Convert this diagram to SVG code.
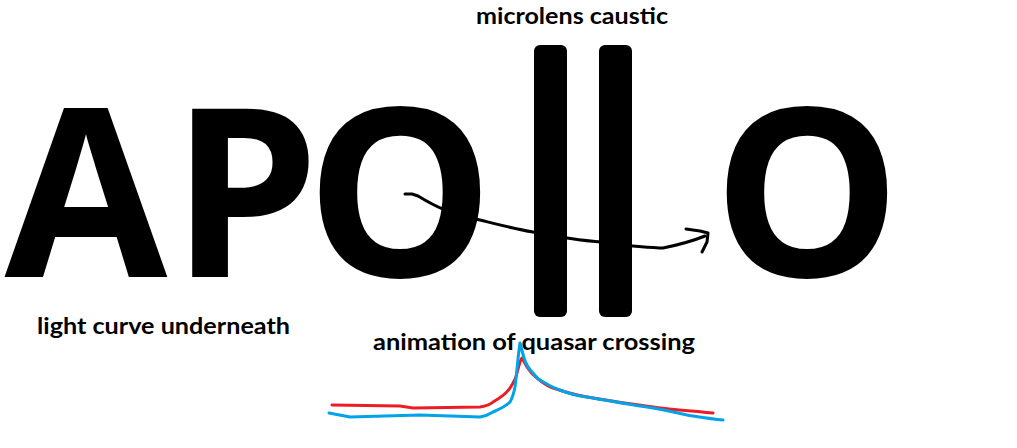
<svg xmlns="http://www.w3.org/2000/svg" width="1017" height="448" viewBox="0 0 1017 448">
<style>
.big{font-family:"Open Sans","Liberation Sans",sans-serif;font-weight:700;font-size:236px;fill:#000}
.lbl{font-family:"Lato","Open Sans","Liberation Sans",sans-serif;font-weight:700;font-size:23px;fill:#000}
.bar{fill:#000}
.lc{fill:none;stroke-width:3;stroke-linejoin:round;stroke-linecap:round}
</style>
<rect width="1017" height="448" fill="#fff"/>
<g id="letter-A"><text class="big" x="86" y="277" text-anchor="middle">A</text></g>
<g id="letter-P"><text class="big" x="245" y="277" text-anchor="middle">P</text></g>
<g id="letter-O1"><text class="big" x="400" y="277" text-anchor="middle">O</text></g>
<g id="caustic">
<rect class="bar" x="534" y="45" width="33" height="272" rx="6"/>
<rect class="bar" x="599" y="45" width="33" height="272" rx="6"/>
</g>
<g id="letter-O2"><text class="big" x="807" y="277" text-anchor="middle">O</text></g>
<g id="label-caustic"><text class="lbl" x="476" y="24" textLength="192" lengthAdjust="spacingAndGlyphs">microlens caustic</text></g>
<g id="label-lightcurve"><text class="lbl" x="37" y="334" textLength="253" lengthAdjust="spacingAndGlyphs">light curve underneath</text></g>
<g id="label-animation"><text class="lbl" x="373" y="350" textLength="322" lengthAdjust="spacingAndGlyphs">animation of quasar crossing</text></g>
<g id="connectors" fill="none" stroke="#000" stroke-width="3" stroke-linecap="round" stroke-linejoin="round">
<path d="M405,194 L412,194 L418,196 C428,202 435,206 443,209 C455,214 467,217 480,220 C500,225 515,229 533,232 C545,234 556,236 567,238 C578,240 590,241 600,242 C612,244 623,245 633,246 C645,247 655,248 663,248 C678,245 690,242 705,236"/>
<path d="M686,229 L700,231 L708,233 L707,242 L702,252"/>
</g>
<g id="lightcurves">
<path class="lc" stroke="#ED1C24" d="M332,405 L400,406 L413,408 L480,407 C487,406 490,405 493,402 C500,398 506,394 510,388 C514,382 516,378 517,373 C519,366 520,360 522,358 L527,367 C530,372 533,375 537,378 C543,383 547,386 553,388 C565,392 575,395 587,397 C610,401 630,404 653,407 C675,410 695,411 713,413"/>
<path class="lc" stroke="#00A2E8" d="M329,413 L350,417 L420,415 L480,417 C486,416 490,414 493,412 C500,409 506,406 510,402 C513,397 514,392 515,387 C517,372 518,355 520,343 L524,358 C526,365 528,368 533,373 C536,377 538,379 540,380 C547,384 553,388 560,390 C570,394 578,396 587,397 C610,401 630,405 653,408 C665,410 677,413 687,415 C700,417 712,419 723,420"/>
</g>
</svg>
